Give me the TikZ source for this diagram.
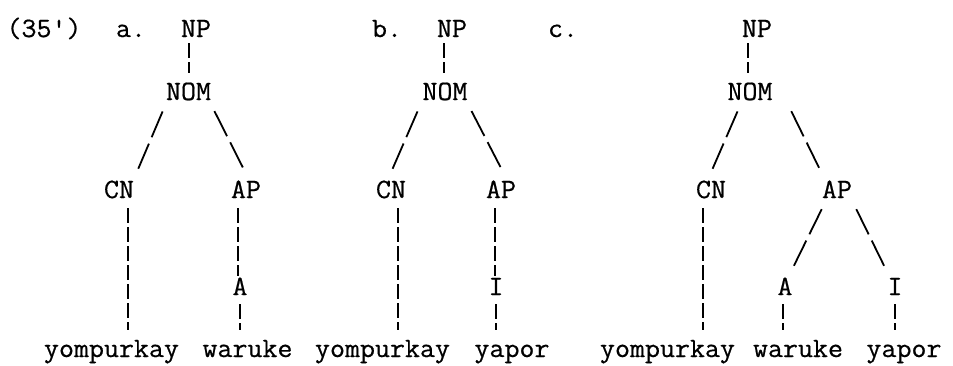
\documentclass[tikz,border=0pt]{standalone}
\usepackage{fontspec}
\setmonofont{lmmono12-regular.otf}[FakeStretch=1.04,FakeBold=0.6]
\usepackage{tikz}

\begin{document}
\begin{tikzpicture}[x=0.5pt,y=-0.5pt,
  tw/.style={font=\ttfamily\fontsize{14}{16}\selectfont,inner sep=0pt,anchor=base,text height=8pt,text depth=0pt},
  word/.style={tw,text depth=2.5pt},
  vbar/.style={line width=0.9pt,dash pattern=on 7.5pt off 2pt,shorten <=5pt,shorten >=5.5pt},
  slant/.style={line width=0.9pt,dash pattern=on 14pt off 3.5pt,shorten <=6pt,shorten >=7pt}]
\path[use as bounding box] (0,0) rectangle (953,365);
% example number and letters
\node[tw] (num) at (44,37) {(35')};
\node[tw] (la) at (131,37) {a.};
\node[tw] (lb) at (387,37) {b.};
\node[tw] (lc) at (563,37) {c.};
% tree a
\node[tw] (npA) at (196,37) {NP};
\node[tw] (nomA) at (188.5,100) {NOM};
\node[tw] (cnA) at (119,198) {CN};
\node[tw] (apA) at (246,198) {AP};
\node[tw] (aA) at (240,295) {A};
\node[word] (ykA) at (111.5,357) {yompurkay};
\node[word] (waA) at (247.5,357) {waruke};
\draw[vbar,shorten <=3pt] ([xshift=-3.5pt]npA.south) -- ([xshift=-3.5pt]npA.south |- nomA.north);
\draw[slant] ([xshift=-10.6pt]nomA.south) -- ([xshift=6.9pt]cnA.north);
\draw[slant] ([xshift=10.25pt]nomA.south) -- ([xshift=2pt]apA.north);
\draw[vbar] ([xshift=4.5pt]cnA.south) -- ([xshift=4.5pt]cnA.south |- ykA.north);
\draw[vbar,shorten >=1.5pt] ([xshift=-4pt]apA.south) -- ([xshift=-4pt]apA.south |- aA.north);
\draw[vbar,shorten <=4.5pt] (aA.south) -- (aA.south |- waA.north);
% tree b
\node[tw] (npB) at (452,37) {NP};
\node[tw] (nomB) at (445,100) {NOM};
\node[tw] (cnB) at (391,198) {CN};
\node[tw] (apB) at (501,198) {AP};
\node[tw] (iB) at (496,295) {I};
\node[word] (ykB) at (382.5,357) {yompurkay};
\node[word] (yaB) at (512,357) {yapor};
\draw[vbar,shorten <=3pt] ([xshift=-4pt]npB.south) -- ([xshift=-4pt]npB.south |- nomB.north);
\draw[slant] ([xshift=-11.35pt]nomB.south) -- ([xshift=-2pt]cnB.north);
\draw[slant] ([xshift=10.5pt]nomB.south) -- ([xshift=3.5pt]apB.north);
\draw[vbar] ([xshift=3.5pt]cnB.south) -- ([xshift=3.5pt]cnB.south |- ykB.north);
\draw[vbar,shorten >=1.5pt] ([xshift=-3pt]apB.south) -- ([xshift=-3pt]apB.south |- iB.north);
\draw[vbar,shorten <=4.5pt] (iB.south) -- (iB.south |- yaB.north);
% tree c
\node[tw] (npC) at (757,37) {NP};
\node[tw] (nomC) at (750,100) {NOM};
\node[tw] (cnC) at (711,198) {CN};
\node[tw] (apC) at (837,198) {AP};
\node[tw] (aC) at (785,295) {A};
\node[tw] (iC) at (895,295) {I};
\node[word] (ykC) at (667.5,357) {yompurkay};
\node[word] (waC) at (798,357) {waruke};
\node[word] (yaC) at (904,357) {yapor};
\draw[vbar,shorten <=3pt] ([xshift=-4.5pt]npC.south) -- ([xshift=-4.5pt]npC.south |- nomC.north);
\draw[slant] ([xshift=-3.85pt]nomC.south) -- ([xshift=-2pt]cnC.north);
\draw[slant] ([xshift=18pt]nomC.south) -- ([xshift=-5.6pt]apC.north);
\draw[vbar] ([xshift=-4pt]cnC.south) -- ([xshift=-4pt]cnC.south |- ykC.north);
\draw[slant] ([xshift=-5pt]apC.south) -- ([xshift=1.3pt]aC.north);
\draw[slant] ([xshift=7pt]apC.south) -- ([xshift=-2.3pt]iC.north);
\draw[vbar,shorten <=4.5pt] ([xshift=-1pt]aC.south) -- ([xshift=-1pt]aC.south |- waC.north);
\draw[vbar,shorten <=4.5pt] (iC.south) -- (iC.south |- yaC.north);
\end{tikzpicture}
\end{document}
